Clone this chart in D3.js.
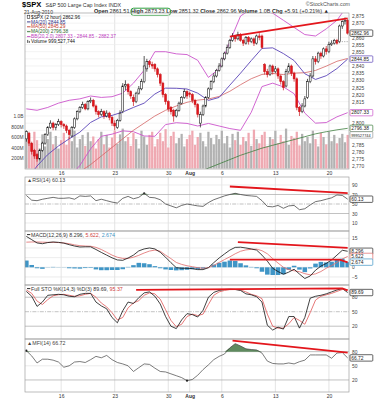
<!DOCTYPE html>
<html>
<head>
<meta charset="utf-8">
<script src="https://cdn.jsdelivr.net/npm/d3@7"></script>
<style>
  body { margin: 0; background: #fff; }
  svg { display: block; font-family: "Liberation Sans", Arial, sans-serif; }
</style>
</head>
<body>
<div id="chart"></div>
<script>
'use strict';

// ---- 2 hour price bars ----
var opens = [
  2789, 2793, 2786, 2781, 2778, 2775, 2781, 2786, 2792, 2797,
  2800, 2797, 2799, 2801, 2799, 2798, 2795, 2791, 2797, 2803,
  2808, 2811, 2813, 2810, 2815, 2816, 2812, 2808, 2806, 2808,
  2805, 2807, 2804, 2800, 2797, 2802, 2808, 2826, 2827, 2822,
  2818, 2815, 2821, 2824, 2829, 2838, 2843, 2841, 2841, 2838,
  2834, 2828, 2820, 2815, 2811, 2809, 2805, 2809, 2814, 2818,
  2822, 2821, 2820, 2816, 2813, 2800, 2806, 2812, 2818, 2824,
  2829, 2833, 2837, 2840, 2845, 2849, 2853, 2858, 2861, 2859,
  2862, 2858, 2856, 2860, 2857, 2859, 2856, 2861, 2861, 2841,
  2836, 2834, 2840, 2836, 2838, 2833, 2829, 2826, 2836, 2840,
  2835, 2831, 2811, 2808, 2812, 2818, 2829, 2833, 2845, 2843,
  2849, 2847, 2852, 2850, 2855, 2856, 2858, 2857, 2868, 2871,
  2872];
var highs = [
  2795, 2794, 2787, 2782, 2779, 2782, 2787, 2793, 2798, 2802,
  2801, 2800, 2803, 2802, 2800, 2799, 2796, 2798, 2804, 2809,
  2812, 2815, 2814, 2816, 2818, 2817, 2813, 2809, 2810, 2809,
  2809, 2808, 2805, 2802, 2803, 2809, 2828, 2830, 2828, 2823,
  2820, 2822, 2826, 2831, 2847, 2845, 2844, 2843, 2842, 2839,
  2835, 2829, 2821, 2816, 2812, 2810, 2810, 2815, 2819, 2824,
  2823, 2822, 2821, 2817, 2814, 2808, 2813, 2819, 2825, 2830,
  2835, 2838, 2842, 2846, 2850, 2855, 2859, 2863, 2862, 2864,
  2863, 2859, 2861, 2861, 2860, 2860, 2862, 2863, 2862, 2842,
  2838, 2841, 2841, 2840, 2839, 2834, 2830, 2838, 2842, 2841,
  2836, 2832, 2812, 2814, 2819, 2831, 2835, 2847, 2847, 2850,
  2850, 2853, 2854, 2857, 2858, 2859, 2859, 2869, 2872, 2874,
  2873];
var lows = [
  2787, 2784, 2778, 2775, 2773, 2774, 2780, 2785, 2791, 2796,
  2795, 2795, 2798, 2797, 2796, 2793, 2789, 2790, 2796, 2802,
  2807, 2810, 2809, 2809, 2814, 2811, 2806, 2804, 2805, 2803,
  2804, 2802, 2798, 2795, 2796, 2801, 2807, 2823, 2820, 2817,
  2812, 2814, 2820, 2823, 2828, 2836, 2839, 2838, 2836, 2832,
  2826, 2818, 2813, 2808, 2806, 2801, 2804, 2808, 2813, 2817,
  2817, 2818, 2814, 2811, 2804, 2797, 2805, 2811, 2817, 2823,
  2828, 2832, 2836, 2839, 2844, 2848, 2852, 2857, 2857, 2858,
  2857, 2854, 2855, 2855, 2856, 2854, 2855, 2858, 2852, 2834,
  2832, 2833, 2834, 2835, 2831, 2827, 2823, 2825, 2835, 2833,
  2829, 2809, 2805, 2807, 2811, 2817, 2828, 2832, 2841, 2842,
  2845, 2846, 2848, 2849, 2854, 2855, 2855, 2856, 2866, 2869,
  2862];
var closes = [
  2794, 2786, 2780, 2777, 2775, 2781, 2786, 2792, 2797, 2800,
  2797, 2799, 2801, 2799, 2798, 2795, 2792, 2797, 2803, 2808,
  2811, 2813, 2810, 2815, 2816, 2812, 2808, 2806, 2808, 2805,
  2807, 2804, 2800, 2798, 2802, 2807, 2826, 2827, 2822, 2819,
  2815, 2821, 2824, 2829, 2840, 2843, 2841, 2840, 2838, 2834,
  2828, 2820, 2815, 2810, 2808, 2805, 2809, 2814, 2818, 2822,
  2819, 2820, 2816, 2813, 2806, 2806, 2812, 2818, 2824, 2829,
  2833, 2837, 2840, 2845, 2849, 2853, 2858, 2861, 2859, 2862,
  2858, 2856, 2860, 2857, 2859, 2856, 2861, 2860, 2853, 2836,
  2834, 2840, 2836, 2838, 2833, 2829, 2825, 2836, 2840, 2835,
  2831, 2811, 2808, 2812, 2817, 2829, 2833, 2845, 2843, 2849,
  2847, 2852, 2850, 2855, 2856, 2858, 2856, 2868, 2871, 2872,
  2863];
// volume in millions
var volumes = [
  560, 640, 480, 700, 540, 380, 650, 420, 560, 700,
  460, 620, 380, 540, 680, 450, 600, 520, 720, 400,
  560, 640, 430, 690, 520, 610, 380, 560, 700, 460,
  640, 400, 590, 720, 470, 650, 760, 520, 600, 430,
  680, 560, 380, 720, 610, 450, 640, 700, 420, 560,
  680, 520, 750, 400, 620, 700, 480, 580, 660, 420,
  560, 640, 720, 450, 600, 680, 520, 420, 700, 580,
  460, 640, 560, 720, 480, 620, 400, 660, 540, 700,
  450, 600, 520, 680, 430, 740, 560, 480, 640, 700,
  420, 600, 560, 720, 480, 640, 520, 760, 450, 620,
  580, 700, 440, 660, 520, 600, 480, 720, 560, 420,
  680, 600, 460, 700, 520, 640, 480, 580, 660, 500,
  640];
var prevClose = 2857.05;

// ---- overlays, one reading every 4 bars ----
var ma20 = [2760, 2770, 2778, 2784, 2789, 2793.7, 2800.5, 2804.4, 2805.4, 2807.8,
  2811, 2814, 2820.4, 2824.5, 2824.4, 2823.9, 2821, 2815.9, 2818, 2826.6,
  2835, 2843.8, 2852.3, 2852.7, 2848.7, 2843.8, 2834.6, 2830.6, 2833.2, 2838.2,
  2844.85];
var ma50 = [2745, 2749, 2753, 2757, 2761, 2766, 2771, 2777, 2783, 2789,
  2795, 2800, 2805, 2809, 2812, 2814.6, 2816.1, 2816.9, 2818.7, 2822.3,
  2826.9, 2831.1, 2834.1, 2834.8, 2834, 2835, 2835.3, 2836.9, 2839.9, 2843.3,
  2845.29];
var ma200 = [null, null, null, null, null, null, null, null, null, null,
  null, null, null, null, null, 2762, 2765.5, 2768.5, 2771.5, 2774.5,
  2777.5, 2780, 2782.5, 2784.5, 2786.5, 2788.5, 2790.5, 2792.5, 2794, 2795.3,
  2796.38];
var bbUpper = [2810, 2809, 2811, 2814, 2816, 2817, 2819, 2818, 2818.5, 2821,
  2828, 2837, 2850, 2850, 2848.5, 2848, 2844, 2832, 2838, 2857,
  2875, 2880, 2879, 2877, 2872, 2867, 2862, 2861, 2866, 2872,
  2882.37];
var bbLower = [2710, 2731, 2745, 2754, 2762, 2770.4, 2782, 2790.8, 2792.3, 2794.6,
  2794, 2791, 2790.8, 2799, 2800.3, 2799.8, 2798, 2799.8, 2798, 2796.2,
  2795, 2807.6, 2825.6, 2828, 2825.4, 2820.6, 2807, 2800, 2800.4, 2804.4,
  2807.33];

// ---- indicators, one reading every 2 bars ----
var rsi = [68, 58, 57, 60, 62, 64, 62, 62, 63, 60,
  67, 66, 67, 57, 60, 57, 54, 52, 62, 66,
  61, 64, 72.5, 64, 63, 59, 50, 46, 42, 47,
  50, 48, 46, 45, 53, 59, 63, 67, 70, 72.5,
  70, 68, 67, 66, 57, 45, 44, 47, 41, 46,
  47, 38, 40, 48, 55, 57, 60, 63, 69, 68,
  60.13];
var macd = [16.0, 14.3, 12.6, 12.2, 12.8, 13.1, 12.9, 12.5, 11.7, 11.0,
  10.5, 10.6, 10.6, 9.2, 7.7, 6.3, 4.9, 3.8, 3.6, 4.8,
  6.3, 8.5, 9.5, 10.0, 9.5, 7.8, 5.2, 2.4, -0.2, -0.5,
  -0.5, -0.7, -1.2, -1.2, -0.2, 2.4, 4.8, 6.9, 8.9, 10.3,
  10.4, 10.0, 9.5, 8.9, 6.3, 3.2, -0.5, -2.2, -3.6, -2.5,
  -1.0, -3.5, -5.8, -4.5, -1.5, 0.6, 2.0, 3.8, 6.3, 8.8,
  8.296];
var macdSignal = [13.0, 13.1, 13.1, 13.0, 12.9, 12.9, 12.8, 12.6, 12.2, 11.6,
  11.2, 11.0, 10.9, 10.3, 9.2, 7.8, 6.3, 5.2, 4.6, 4.6,
  5.2, 6.2, 7.4, 8.4, 8.9, 8.3, 6.3, 4.5, 2.5, 1.5,
  0.8, 0.3, -0.2, -0.5, -0.2, 1.0, 2.5, 4.0, 5.4, 7.0,
  8.3, 9.0, 9.3, 9.4, 8.6, 7.0, 4.5, 2.2, 0.0, -1.2,
  -1.8, -2.3, -3.3, -3.9, -3.4, -2.2, -0.5, 0.9, 2.5, 4.3,
  5.622];
var macdHist = [3.5, 1.2, -0.5, -0.8, -0.1, 0.2, 0.1, -0.1, -0.5, -0.6,
  -0.7, -0.4, -0.3, -1.1, -1.5, -1.5, -1.4, -1.4, -1.0, 0.2,
  1.1, 2.3, 2.1, 1.6, 0.6, -0.5, -1.1, -1.4, -1.6, -1.5,
  -1.3, -1.0, -1.0, -0.7, 0.0, 1.4, 2.3, 2.9, 3.5, 3.3,
  2.1, 1.0, 0.2, -0.5, -2.3, -3.8, -4.0, -4.0, -3.6, -1.3,
  0.8, -1.2, -2.5, -0.6, 1.9, 2.8, 2.5, 2.9, 3.8, 4.5,
  2.674];
var stoK = [92, 82, 61, 70, 84, 85, 86, 85, 82, 81,
  86, 88, 88, 70, 62, 56, 38, 27, 52, 70,
  67, 79, 89, 91, 82, 66, 40, 20, 15, 33,
  46, 44, 39, 53, 80, 90, 94, 96, 96.5, 96,
  94, 87, 85, 81, 70, 22, 12, 18, 14, 40,
  40, 16, 38, 78, 82, 84, 87, 91, 95, 98,
  89.69];
var stoD = [95, 88, 72, 65, 75, 83, 85, 86, 84, 82,
  83, 86, 88, 80, 68, 60, 48, 33, 38, 58,
  68, 73, 84, 89, 87, 76, 54, 32, 19, 24,
  40, 45, 42, 45, 65, 84, 91, 94, 96, 96,
  95, 91, 86, 83, 77, 45, 20, 16, 16, 25,
  38, 32, 24, 48, 74, 82, 85, 88, 92, 96,
  95.37];
var mfi = [82, 71, 56, 64, 64, 62, 58, 47, 50, 58,
  59, 57, 63, 70, 67, 72, 63, 57, 54, 50,
  38, 46, 54, 53, 45, 38, 37, 33, 29, 25,
  18.5, 21, 30, 42, 52, 63, 70, 75, 88, 97,
  92, 86, 84.5, 83.6, 77, 60, 55, 54, 54, 56,
  54, 58.7, 62, 73, 73, 73, 73, 66, 77, 78,
  66.72];

// ---- x axis ----
var tickBars = [13, 33, 53, 61, 73, 93, 113];
var tickLabels = ['16', '23', '30', 'Aug', '6', '13', '20'];

// ---- hand drawn trend lines [bar, value] ----
var priceTrend = [[76, 2860.5], [120, 2873.4]];
var rsiTrend = [[76, 86.8], [120, 72.9]];
var macdTrendTop = [[79, 13], [120, 10]];
var macdTrendLow = [[76, 4], [117, 4], [120, 2.5]];
var stoTrend = [[41, 95], [118, 98.2], [120, 94]];
var mfiTrend = [[77, 103.5], [120, 78]];

// ------------------------------------------------------------------
var W = 374, H = 400, left = 25, right = 349;
var N = closes.length;
var every4 = d3.range(0, N, 4), every2 = d3.range(0, N, 2);
var RED = '#e3161c', GRID = '#e4e4e4', LEVEL = '#a8a8a8';
var FONT = '"Liberation Sans", Arial, sans-serif';

var svg = d3.select('#chart').append('svg').attr('width', W).attr('height', H);
var x = d3.scaleLinear().domain([-0.5, N - 0.5]).range([left, right]);
var step = x(1) - x(0);

var bars = d3.range(N).map(function(i) {
  return {i: i, o: opens[i], h: highs[i], l: lows[i], c: closes[i], v: volumes[i]};
});
function isUp(d) { return d.c >= d.o; }

function makePanel(name, top, bottom, domain) {
  var y = d3.scaleLinear().domain(domain).range([bottom, top]);
  svg.append('clipPath').attr('id', 'clip-' + name)
    .append('rect').attr('x', left).attr('y', top).attr('width', right - left).attr('height', bottom - top);
  var grid = svg.append('g');
  var plot = svg.append('g').attr('clip-path', 'url(#clip-' + name + ')');
  var front = svg.append('g');
  grid.selectAll('line').data(tickBars).join('line')
    .attr('x1', function(d) { return x(d); }).attr('x2', function(d) { return x(d); })
    .attr('y1', top).attr('y2', bottom)
    .attr('stroke', '#d8d8d8').attr('stroke-width', 0.7);
  front.append('rect').attr('x', left).attr('y', top).attr('width', right - left).attr('height', bottom - top)
    .attr('fill', 'none').attr('stroke', '#a0a0a0').attr('stroke-width', 0.7);
  return {y: y, grid: grid, plot: plot, front: front, top: top, bottom: bottom};
}

function hLines(p, values, color, dash) {
  p.grid.append('g').selectAll('line').data(values).join('line')
    .attr('x1', left).attr('x2', right)
    .attr('y1', function(d) { return p.y(d); }).attr('y2', function(d) { return p.y(d); })
    .attr('stroke', color).attr('stroke-width', 0.7)
    .attr('stroke-dasharray', dash || null);
}

function rightAxis(p, ticks, boxValues) {
  var shown = ticks.filter(function(t) {
    return !boxValues.some(function(b) { return Math.abs(p.y(b) - p.y(t)) < 4; });
  });
  var ax = p.front.append('g').attr('transform', 'translate(' + right + ',0)')
    .call(d3.axisRight(p.y).tickValues(shown).tickSize(0).tickPadding(3));
  ax.select('.domain').remove();
  ax.selectAll('text').attr('font-size', 4.9).attr('fill', '#444').attr('font-family', FONT);
}

function valueBox(p, v, label, color) {
  var yy = p.y(v);
  var g = p.front.append('g');
  g.append('rect').attr('x', right + 1).attr('y', yy - 3.2).attr('width', 22.8).attr('height', 6.4)
    .attr('rx', 0.8).attr('fill', '#fff').attr('stroke', color).attr('stroke-width', 0.7);
  g.append('text').attr('x', right + 2.2).attr('y', yy + 1.7)
    .attr('font-size', label.length > 7 ? 3.9 : 4.9).attr('fill', '#222').text(label);
}

function seriesLine(p, values, idx) {
  return d3.line()
    .defined(function(d) { return d != null; })
    .x(function(d, i) { return x(idx[i]); })
    .y(function(d) { return p.y(d); })(values);
}

function trendLine(p, pts) {
  p.plot.append('path')
    .attr('d', d3.line().x(function(d) { return x(d[0]); }).y(function(d) { return p.y(d[1]); })(pts))
    .attr('fill', 'none').attr('stroke', RED).attr('stroke-width', 1.8);
}

function aboveFill(p, values, level, color) {
  p.plot.append('path')
    .attr('d', d3.area()
      .x(function(d, i) { return x(every2[i]); })
      .y0(p.y(level))
      .y1(function(d) { return p.y(Math.max(d, level)); })(values))
    .attr('fill', color);
}

function xAxis(yPos) {
  var ax = svg.append('g').attr('transform', 'translate(0,' + yPos + ')')
    .call(d3.axisBottom(x).tickValues(tickBars).tickSize(0).tickPadding(2)
      .tickFormat(function(d, i) { return tickLabels[i]; }));
  ax.select('.domain').remove();
  ax.selectAll('text').attr('font-size', 5).attr('fill', '#333').attr('font-family', FONT)
    .attr('font-weight', function(d, i) { return tickLabels[i] === 'Aug' ? 'bold' : null; });
}

// ---------------- header ----------------
svg.append('text').attr('x', 22).attr('y', 7.2).attr('font-size', 7.6).attr('font-weight', 'bold').text('$SPX');
svg.append('text').attr('x', 45.5).attr('y', 7.2).attr('font-size', 5.3).attr('fill', '#333').text('S&P 500 Large Cap Index INDX');
svg.append('text').attr('x', 350).attr('y', 6).attr('text-anchor', 'end').attr('font-size', 5.3).attr('fill', '#555').text('\u00A9StockCharts.com');
svg.append('text').attr('x', 24).attr('y', 13.6).attr('font-size', 5).attr('fill', '#222').text('21-Aug-2010');
var statRow = svg.append('text').attr('x', 94).attr('y', 13.3).attr('font-size', 5.5).attr('fill', '#222');
[['Open ', '2861.51  '], ['High ', '2873.23  '], ['Low ', '2851.32  '], ['Close ', '2862.96  '],
 ['Volume ', '1.0B  '], ['Chg ', '+5.91 (+0.21%) \u25B2']].forEach(function(s) {
  statRow.append('tspan').attr('font-weight', 'bold').text(s[0]);
  statRow.append('tspan').text(s[1]);
});
svg.append('rect').attr('x', 131).attr('y', 8.2).attr('width', 39.5).attr('height', 7.2).attr('rx', 2.5)
  .attr('fill', 'none').attr('stroke', '#2e9e3e').attr('stroke-width', 1);

// ---------------- main price panel ----------------
var main = makePanel('main', 13, 169, [2767.9, 2877.1]);
var yVol = d3.scaleLinear().domain([0, 1000]).range([168.5, 116]);
hLines(main, d3.range(2770, 2876, 5), '#ededed');

main.plot.append('g').selectAll('rect').data(bars).join('rect')
  .attr('x', function(d) { return x(d.i) - step * 0.42; })
  .attr('width', step * 0.84)
  .attr('y', function(d) { return yVol(d.v); })
  .attr('height', function(d) { return yVol(0) - yVol(d.v); })
  .attr('fill', function(d) { return isUp(d) ? '#b2b2b2' : '#efa9b2'; });

var overlays = [
  [bbUpper, '#cc55cc', 0.9], [bbLower, '#cc55cc', 0.9], [ma200, '#3f7f3f', 0.8],
  [ma50, '#d46464', 0.8], [ma20, '#5b45b8', 0.9]
];
overlays.forEach(function(o) {
  main.plot.append('path').attr('d', seriesLine(main, o[0], every4))
    .attr('fill', 'none').attr('stroke', o[1]).attr('stroke-width', o[2]);
});

var candles = main.plot.append('g').selectAll('g').data(bars).join('g');
candles.append('line')
  .attr('x1', function(d) { return x(d.i); }).attr('x2', function(d) { return x(d.i); })
  .attr('y1', function(d) { return main.y(d.h); }).attr('y2', function(d) { return main.y(d.l); })
  .attr('stroke', function(d) { return isUp(d) ? '#111' : '#c8141a'; }).attr('stroke-width', 0.7);
candles.append('rect')
  .attr('x', function(d) { return x(d.i) - 0.95; }).attr('width', 1.9)
  .attr('y', function(d) { return main.y(Math.max(d.o, d.c)); })
  .attr('height', function(d) { return Math.max(0.7, Math.abs(main.y(d.o) - main.y(d.c))); })
  .attr('fill', function(d) { return isUp(d) ? '#fff' : RED; })
  .attr('stroke', function(d) { return isUp(d) ? '#111' : '#c8141a'; }).attr('stroke-width', 0.55);

main.plot.append('line').attr('x1', x(116)).attr('x2', right)
  .attr('y1', main.y(prevClose)).attr('y2', main.y(prevClose))
  .attr('stroke', '#888').attr('stroke-width', 0.7).attr('stroke-dasharray', '1.2,1.2');
trendLine(main, priceTrend);

var volLevel = main.y.invert(yVol(volumes[N - 1]));
rightAxis(main, d3.range(2770, 2876, 5),
  [closes[N - 1], ma20[ma20.length - 1], bbLower[bbLower.length - 1], ma200[ma200.length - 1], volLevel]);
valueBox(main, closes[N - 1], '2862.96', '#222');
valueBox(main, ma20[ma20.length - 1], '2844.85', '#5b45b8');
valueBox(main, bbLower[bbLower.length - 1], '2807.33', '#cc55cc');
valueBox(main, ma200[ma200.length - 1], '2796.38', '#3f7f3f');
valueBox(main, volLevel, '999527744', '#999');

var volAxis = main.front.append('g').attr('transform', 'translate(' + left + ',0)')
  .call(d3.axisLeft(yVol).tickValues([200, 400, 600, 800, 1000]).tickSize(0).tickPadding(1.5)
    .tickFormat(function(d) { return d === 1000 ? '1.0B' : d + 'M'; }));
volAxis.select('.domain').remove();
volAxis.selectAll('text').attr('font-size', 4.9).attr('fill', '#444').attr('font-family', FONT);

var legendRows = [
  ['$SPX (2 hour) 2862.96', '#111', 'bar', '#111'],
  ['MA(20) 2844.85', '#2d2d80', 'line', '#2d2d80'],
  ['MA(50) 2845.29', '#c0392b', 'line', '#c0392b'],
  ['MA(200) 2796.38', '#2e6b2e', 'line', '#2e6b2e'],
  ['BB(20,2.0) 2807.33 - 2844.85 - 2882.37', '#c040c0', 'line', '#c040c0'],
  ['Volume 999,527,744', '#111', 'vol', '#555']
];
legendRows.forEach(function(r, k) {
  var yy = 18.6 + k * 4.9;
  var g = main.front.append('g');
  if (r[2] === 'line') {
    g.append('line').attr('x1', 27).attr('x2', 30.5).attr('y1', yy - 1.6).attr('y2', yy - 1.6)
      .attr('stroke', r[3]).attr('stroke-width', 0.9);
  } else if (r[2] === 'bar') {
    g.append('rect').attr('x', 27.2).attr('y', yy - 3.4).attr('width', 2.6).attr('height', 3.2)
      .attr('fill', '#fff').attr('stroke', '#111').attr('stroke-width', 0.5);
  } else {
    g.append('rect').attr('x', 27.2).attr('y', yy - 3.2).attr('width', 1).attr('height', 3).attr('fill', '#555');
    g.append('rect').attr('x', 28.8).attr('y', yy - 2.2).attr('width', 1).attr('height', 2).attr('fill', '#555');
  }
  g.append('text').attr('x', 31).attr('y', yy).attr('font-size', 4.8).attr('fill', r[1]).text(r[0]);
});

xAxis(169);

// ---------------- RSI ----------------
var pRsi = makePanel('rsi', 177, 231, [-6.8, 106.8]);
hLines(pRsi, [10, 90], GRID);
hLines(pRsi, [30, 70], LEVEL);
hLines(pRsi, [50], LEVEL, '4,1.2,1,1.2');
aboveFill(pRsi, rsi, 70, '#5f8a5f');
pRsi.plot.append('path').attr('d', seriesLine(pRsi, rsi, every2))
  .attr('fill', 'none').attr('stroke', '#333').attr('stroke-width', 0.7);
pRsi.plot.append('circle').attr('cx', x(every2[22])).attr('cy', pRsi.y(rsi[22])).attr('r', 1.1).attr('fill', '#333');
trendLine(pRsi, rsiTrend);
rightAxis(pRsi, [10, 30, 50, 70, 90], [rsi[rsi.length - 1]]);
valueBox(pRsi, rsi[rsi.length - 1], '60.13', '#222');
pRsi.front.append('text').attr('x', 27).attr('y', 182).attr('font-size', 5.3).attr('fill', '#444')
  .text('\u25B2RSI(14) 60.13');

// ---------------- MACD ----------------
var pMacd = makePanel('macd', 231, 285, [-9.16, 18.78]);
hLines(pMacd, [-5, 0, 5, 10, 15], GRID);
pMacd.plot.append('g').selectAll('rect').data(macdHist).join('rect')
  .attr('x', function(d, i) { return x(every2[i]) - step * 0.85; })
  .attr('width', step * 1.7)
  .attr('y', function(d) { return pMacd.y(Math.max(0, d)); })
  .attr('height', function(d) { return Math.abs(pMacd.y(0) - pMacd.y(d)); })
  .attr('fill', '#3f95c6');
pMacd.plot.append('path').attr('d', seriesLine(pMacd, macdSignal, every2))
  .attr('fill', 'none').attr('stroke', '#e06a6a').attr('stroke-width', 0.8);
pMacd.plot.append('path').attr('d', seriesLine(pMacd, macd, every2))
  .attr('fill', 'none').attr('stroke', '#111').attr('stroke-width', 0.8);
trendLine(pMacd, macdTrendTop);
trendLine(pMacd, macdTrendLow);
rightAxis(pMacd, [-5, 0, 5, 10, 15], [8.296, 5.622, 2.674]);
valueBox(pMacd, macd[macd.length - 1], '8.296', '#222');
valueBox(pMacd, macdSignal[macdSignal.length - 1], '5.622', '#e06a6a');
valueBox(pMacd, macdHist[macdHist.length - 1], '2.674', '#3f95c6');
var macdLabel = pMacd.front.append('text').attr('x', 31).attr('y', 236.5).attr('font-size', 5.3);
macdLabel.append('tspan').attr('fill', '#333').text('MACD(12,26,9) 8.296, ');
macdLabel.append('tspan').attr('fill', '#d04040').text('5.622, ');
macdLabel.append('tspan').attr('fill', '#3f95c6').text('2.674');
pMacd.front.append('line').attr('x1', 27).attr('x2', 30.3).attr('y1', 234.6).attr('y2', 234.6)
  .attr('stroke', '#111').attr('stroke-width', 0.9);

// ---------------- Full STO ----------------
var pSto = makePanel('sto', 285, 339, [-6.5, 105.3]);
hLines(pSto, [20, 80], LEVEL);
hLines(pSto, [50], LEVEL, '4,1.2,1,1.2');
pSto.plot.append('path').attr('d', seriesLine(pSto, stoD, every2))
  .attr('fill', 'none').attr('stroke', '#e05555').attr('stroke-width', 0.8);
pSto.plot.append('path').attr('d', seriesLine(pSto, stoK, every2))
  .attr('fill', 'none').attr('stroke', '#111').attr('stroke-width', 0.8);
trendLine(pSto, stoTrend);
rightAxis(pSto, [20, 50, 80], [stoK[stoK.length - 1]]);
valueBox(pSto, stoK[stoK.length - 1], '89.69', '#222');
var stoLabel = pSto.front.append('text').attr('x', 31).attr('y', 290.5).attr('font-size', 5.3);
stoLabel.append('tspan').attr('fill', '#333').text('Full STO %K(14,3) %D(3) 89.69, ');
stoLabel.append('tspan').attr('fill', '#d04040').text('95.37');
pSto.front.append('line').attr('x1', 27).attr('x2', 30.3).attr('y1', 288.6).attr('y2', 288.6)
  .attr('stroke', '#111').attr('stroke-width', 0.9);

// ---------------- MFI ----------------
var pMfi = makePanel('mfi', 339, 392, [-5.5, 106.8]);
hLines(pMfi, [50], GRID);
hLines(pMfi, [20, 80], LEVEL);
aboveFill(pMfi, mfi, 80, '#5f8a5f');
pMfi.plot.append('path').attr('d', seriesLine(pMfi, mfi, every2))
  .attr('fill', 'none').attr('stroke', '#444').attr('stroke-width', 0.7);
[0, 30].forEach(function(k) {
  pMfi.plot.append('circle').attr('cx', x(every2[k])).attr('cy', pMfi.y(mfi[k])).attr('r', 1.1).attr('fill', '#222');
});
trendLine(pMfi, mfiTrend);
rightAxis(pMfi, [20, 50, 80], [mfi[mfi.length - 1]]);
valueBox(pMfi, mfi[mfi.length - 1], '66.72', '#222');
pMfi.front.append('text').attr('x', 27).attr('y', 344.5).attr('font-size', 5.3).attr('fill', '#444')
  .text('\u25B2MFI(14) 66.72');

xAxis(392);
</script>
</body>
</html>
